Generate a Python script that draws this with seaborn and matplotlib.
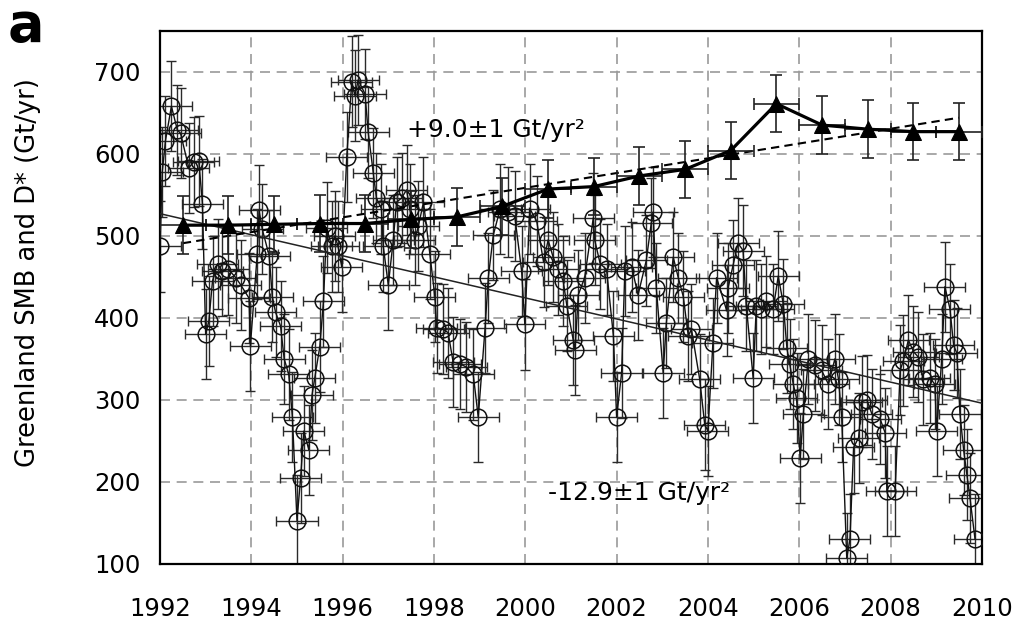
import numpy as np
import pandas as pd
import matplotlib
matplotlib.use("Agg")
import matplotlib.pyplot as plt
import seaborn as sns

# ---- SMB (circles) ----
smb_year = [1992.00, 1992.05, 1992.12, 1992.25, 1992.38, 1992.45, 1992.63, 1992.74, 1992.85, 1992.93,
            1993.00, 1993.07, 1993.15, 1993.26, 1993.36, 1993.50, 1993.66, 1993.77, 1993.95, 1993.98,
            1994.13, 1994.17, 1994.24, 1994.39, 1994.46, 1994.53, 1994.64, 1994.72, 1994.82, 1994.90,
            1995.00, 1995.08, 1995.15, 1995.26, 1995.33, 1995.39, 1995.50, 1995.58, 1995.65, 1995.76,
            1995.83, 1995.90, 1995.98, 1996.09, 1996.20, 1996.27, 1996.34, 1996.49, 1996.56, 1996.67,
            1996.74, 1996.85, 1996.89, 1997.00, 1997.11, 1997.18, 1997.29, 1997.40, 1997.47, 1997.58,
            1997.66, 1997.77, 1997.91, 1998.02, 1998.06, 1998.20, 1998.31, 1998.42, 1998.57, 1998.71,
            1998.86, 1998.97, 1999.12, 1999.19, 1999.30, 1999.45, 1999.63, 1999.77, 1999.92, 1999.99,
            2000.10, 2000.25, 2000.40, 2000.50, 2000.61, 2000.72, 2000.83, 2000.91, 2001.05, 2001.09,
            2001.16, 2001.30, 2001.49, 2001.52, 2001.64, 2001.78, 2001.93, 2002.00, 2002.11, 2002.18,
            2002.33, 2002.47, 2002.65, 2002.76, 2002.80, 2002.87, 2003.02, 2003.09, 2003.24, 2003.35,
            2003.46, 2003.57, 2003.64, 2003.82, 2003.93, 2004.00, 2004.11, 2004.19, 2004.41, 2004.44,
            2004.55, 2004.66, 2004.77, 2004.84, 2004.99, 2005.06, 2005.17, 2005.28, 2005.43, 2005.54,
            2005.65, 2005.73, 2005.79, 2005.87, 2005.94, 2006.02, 2006.09, 2006.20, 2006.35, 2006.49,
            2006.64, 2006.78, 2006.86, 2006.93, 2007.04, 2007.11, 2007.19, 2007.30, 2007.37, 2007.48,
            2007.59, 2007.77, 2007.88, 2007.92, 2008.10, 2008.21, 2008.28, 2008.39, 2008.50, 2008.61,
            2008.72, 2008.86, 2008.97, 2009.01, 2009.12, 2009.19, 2009.30, 2009.38, 2009.45, 2009.52,
            2009.60, 2009.67, 2009.74, 2009.85]
smb_value = [487, 578, 616, 658, 629, 625, 583, 590, 591, 539,
             380, 396, 445, 466, 457, 459, 449, 440, 424, 366,
             478, 531, 508, 476, 426, 407, 390, 350, 331, 279,
             153, 205, 262, 239, 306, 327, 365, 420, 510, 487,
             500, 487, 462, 596, 688, 671, 690, 673, 626, 577,
             546, 533, 487, 440, 495, 541, 546, 556, 533, 495,
             512, 541, 478, 426, 388, 386, 382, 346, 344, 340,
             331, 279, 388, 449, 501, 533, 529, 524, 457, 392,
             533, 518, 468, 495, 474, 459, 445, 415, 373, 361,
             428, 449, 522, 495, 466, 459, 378, 279, 333, 457,
             462, 428, 470, 516, 529, 436, 333, 394, 474, 449,
             426, 378, 386, 325, 270, 262, 369, 449, 409, 436,
             464, 491, 482, 415, 327, 415, 411, 420, 411, 451,
             417, 363, 344, 319, 302, 229, 283, 350, 342, 336,
             319, 350, 325, 279, 107, 130, 242, 254, 298, 300,
             283, 277, 260, 189, 189, 336, 348, 373, 359, 352,
             325, 327, 319, 262, 350, 438, 411, 367, 357, 283,
             239, 209, 180, 130]
smb_yerr = 55
smb_xerr = 0.45

# ---- D* (triangles), annual ----
d_year = [1992.5, 1993.5, 1994.5, 1995.5, 1996.5, 1997.5, 1998.5, 1999.5, 2000.5,
          2001.5, 2002.5, 2003.5, 2004.5, 2005.5, 2006.5, 2007.5, 2008.5, 2009.5]
d_value = [513, 513, 514, 515, 515, 520, 523, 536, 557,
           560, 573, 581, 604, 661, 635, 630, 627, 627]
d_yerr = 35
d_xerr = 0.5

# ---- trend lines (end points) ----
d_trend_year = [1992.5, 2009.5]
d_trend_value = [491, 644]
smb_trend_year = [1992.0, 2010.0]
smb_trend_value = [527, 296]

x_ticks = [1992, 1994, 1996, 1998, 2000, 2002, 2004, 2006, 2008, 2010]
y_ticks = [100, 200, 300, 400, 500, 600, 700]

sns.set_theme(style="white")
plt.rcParams["font.family"] = ["DejaVu Sans"]

fig = plt.figure(figsize=(10.21, 6.27), dpi=100)
ax = fig.add_axes([0.1567, 0.1005, 0.805, 0.8505])

ax.set_axisbelow(True)
ax.grid(True, linestyle=(0, (6, 4)), color="#9a9a9a", linewidth=1.2)

# SMB error bars, line and circles
ax.errorbar(smb_year, smb_value, yerr=smb_yerr, xerr=smb_xerr, fmt="none",
            ecolor="#2a2a2a", elinewidth=1.0, capsize=3.5, capthick=1.0, zorder=2)
sns.lineplot(x=smb_year, y=smb_value, ax=ax, estimator=None, sort=False,
             color="#111111", linewidth=1.0, marker="o", markersize=12,
             markerfacecolor="none", markeredgecolor="#111111", markeredgewidth=1.1,
             zorder=3)

# trends
sns.lineplot(x=smb_trend_year, y=smb_trend_value, ax=ax, estimator=None,
             color="#222222", linewidth=1.1, zorder=4)
sns.lineplot(x=d_trend_year, y=d_trend_value, ax=ax, estimator=None,
             color="black", linewidth=1.5, linestyle=(0, (4, 2.5)), zorder=4)

# D* error bars, line and triangles
ax.errorbar(d_year, d_value, yerr=d_yerr, xerr=d_xerr, fmt="none",
            ecolor="#222222", elinewidth=1.2, capsize=4, capthick=1.2, zorder=5)
sns.lineplot(x=d_year, y=d_value, ax=ax, estimator=None, color="black",
             linewidth=2.3, marker="^", markersize=12, markeredgecolor="black",
             zorder=6)

ax.set_xlim(1992, 2010)
ax.set_ylim(100, 750)
ax.set_xticks(x_ticks)
ax.set_yticks(y_ticks)
ax.tick_params(axis="both", direction="out", length=7, width=1.2, color="black",
               labelsize=17.5, labelcolor="black")
ax.tick_params(axis="x", pad=17)
ax.tick_params(axis="y", pad=7)
for s in ax.spines.values():
    s.set_visible(True)
    s.set_color("black")
    s.set_linewidth(1.6)
ax.set_xlabel("")
ax.set_ylabel("")

ax.text(1997.4, 629, "+9.0±1 Gt/yr²", fontsize=18, va="center", ha="left", color="black")
ax.text(2000.5, 187, "-12.9±1 Gt/yr²", fontsize=18, va="center", ha="left", color="black")

fig.text(0.027, 0.566, "Greenland SMB and D* (Gt/yr)", rotation=90, fontsize=18.5,
         va="center", ha="center", color="black")
fig.text(0.007, 1 - 41 / 627, "a", fontsize=39, fontweight="heavy", va="baseline",
         ha="left", color="black")

fig.savefig("out.png", dpi=100)
